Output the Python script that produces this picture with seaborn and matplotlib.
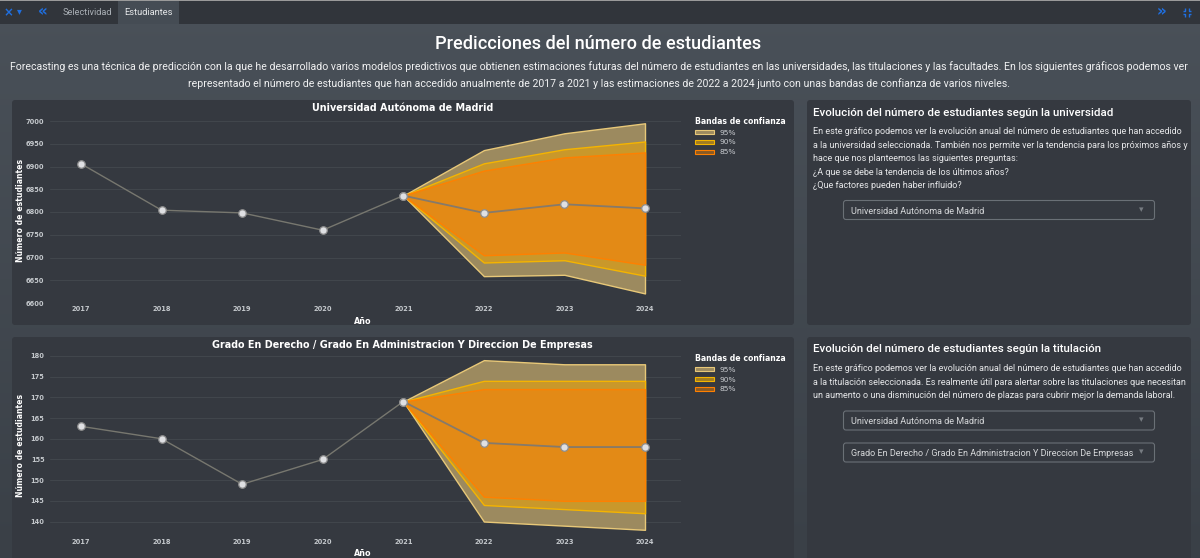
import numpy as np
import pandas as pd
import matplotlib
matplotlib.use("Agg")
import matplotlib.pyplot as plt
from matplotlib.patches import FancyBboxPatch, Patch, Rectangle
import seaborn as sns

sns.set_theme(style="dark")
UI_FONT = "Roboto"
CHART_FONT = "DejaVu Sans"

hist_years = [2017, 2018, 2019, 2020, 2021]
fc_years = [2021, 2022, 2023, 2024]
band_levels = ["95%", "90%", "85%"]

uni_title = "Universidad Autónoma de Madrid"
uni_hist = [6906, 6804, 6798, 6760, 6836]
uni_fc = [6836, 6798, 6817, 6808]
uni_up95 = [6836, 6936, 6973, 6995]
uni_up90 = [6836, 6907, 6938, 6955]
uni_up85 = [6836, 6891, 6920, 6931]
uni_lo85 = [6836, 6705, 6711, 6684]
uni_lo90 = [6836, 6689, 6694, 6660]
uni_lo95 = [6836, 6659, 6662, 6621]
uni_ticks = [6600, 6650, 6700, 6750, 6800, 6850, 6900, 6950, 7000]

deg_title = "Grado En Derecho / Grado En Administracion Y Direccion De Empresas"
deg_hist = [163, 160, 149, 155, 169]
deg_fc = [169, 159, 158, 158]
deg_up95 = [169, 179, 178, 178]
deg_up90 = [169, 174, 174, 174]
deg_up85 = [169, 172, 172, 172]
deg_lo85 = [169, 146, 145, 145]
deg_lo90 = [169, 144, 143, 142]
deg_lo95 = [169, 140, 139, 138]
deg_ticks = [140, 145, 150, 155, 160, 165, 170, 175, 180]

main_title = "Predicciones del número de estudiantes"
intro = ["Forecasting es una técnica de predicción con la que he desarrollado varios modelos predictivos que obtienen estimaciones futuras del número de estudiantes en las universidades, las titulaciones y las facultades. En los siguientes gráficos podemos ver",
         "representado el número de estudiantes que han accedido anualmente de 2017 a 2021 y las estimaciones de 2022 a 2024 junto con unas bandas de confianza de varios niveles."]
card1_title = "Evolución del número de estudiantes según la universidad"
card1_lines = ["En este gráfico podemos ver la evolución anual del número de estudiantes que han accedido",
               "a la universidad seleccionada. También nos permite ver la tendencia para los próximos años y",
               "hace que nos planteemos las siguientes preguntas:",
               "¿A que se debe la tendencia de los últimos años?",
               "¿Que factores pueden haber influido?"]
card2_title = "Evolución del número de estudiantes según la titulación"
card2_lines = ["En este gráfico podemos ver la evolución anual del número de estudiantes que han accedido",
               "a la titulación seleccionada. Es realmente útil para alertar sobre las titulaciones que necesitan",
               "un aumento o una disminución del número de plazas para cubrir mejor la demanda laboral."]

W, H = 1200, 558
fig = plt.figure(figsize=(W / 100, H / 100), dpi=100)

# page background
bg = fig.add_axes([0, 0, 1, 1], zorder=0)
grad = np.linspace(0, 1, 256).reshape(-1, 1)
c0, c1 = np.array([0x4a, 0x51, 0x59]), np.array([0x3a, 0x40, 0x47])
bg.imshow((c0 + (c1 - c0) * grad[..., None]) / 255, aspect="auto", extent=[0, W, H, 0])
bg.set_xlim(0, W); bg.set_ylim(H, 0); bg.axis("off")

PANEL = "#353940"
def card(x0, y0, x1, y1):
    bg.add_patch(FancyBboxPatch((x0, y0), x1 - x0, y1 - y0, boxstyle="round,pad=0,rounding_size=3",
                                fc=PANEL, ec="none"))
card(12, 100, 794, 325)
card(12, 337, 794, 570)
card(807, 100, 1191, 325)
card(807, 337, 1191, 570)

# top bar
bg.add_patch(Rectangle((0, 0), W, 24, fc="#31353b", ec="none"))
bg.add_patch(Rectangle((0, 0), W, 1, fc="#9a9a9a", ec="none"))
bg.add_patch(Rectangle((118, 1), 61, 23, fc="#454c54", ec="none"))
BLUE = "#1f6fe0"
bg.text(8.5, 12.5, "×", color=BLUE, fontsize=8.5, fontweight="bold", ha="center", va="center", family=CHART_FONT)
bg.text(19, 11.5, "▾", color=BLUE, fontsize=7, ha="center", va="center", family=CHART_FONT)
bg.text(43, 11.5, "«", color=BLUE, fontsize=11, fontweight="bold", ha="center", va="center", family=CHART_FONT)
bg.text(1161, 11.5, "»", color=BLUE, fontsize=11, fontweight="bold", ha="center", va="center", family=CHART_FONT)
# compress icon: no installed family has this glyph
for sx, sy in [(-1, -1), (1, -1), (-1, 1), (1, 1)]:
    cx, cy = 1187, 12.5
    bg.plot([cx + sx * 4.2, cx + sx * 1.6, cx + sx * 1.6], [cy + sy * 1.6, cy + sy * 1.6, cy + sy * 4.2],
            color=BLUE, lw=1.0, solid_capstyle="butt")
bg.set_xlim(0, W); bg.set_ylim(H, 0)
bg.text(87.5, 12.5, "Selectividad", color="#aab0b6", fontsize=6.7, ha="center", va="center", family=UI_FONT)
bg.text(148.5, 12.5, "Estudiantes", color="#e4e6e8", fontsize=6.7, ha="center", va="center", family=UI_FONT)

# page headings
bg.text(598.5, 44, main_title, color="white", fontsize=13.1, fontweight="medium", ha="center", va="center", family=UI_FONT)
bg.text(598.5, 67, intro[0], color="#f0f1f2", fontsize=7.6, ha="center", va="center", family=UI_FONT)
bg.text(598.5, 83.5, intro[1], color="#f0f1f2", fontsize=7.6, ha="center", va="center", family=UI_FONT)

# text cards
def text_card(title, y_title, lines, y_first):
    bg.text(813, y_title, title, color="white", fontsize=8.25, fontweight="medium", va="center", family=UI_FONT)
    for i, s in enumerate(lines):
        bg.text(813, y_first + i * 13.6, s, color="#e6e7e9", fontsize=6.45, va="center", family=UI_FONT)

def dropdown(y0, y1, label):
    bg.add_patch(FancyBboxPatch((843.5, y0), 311, y1 - y0, boxstyle="round,pad=0,rounding_size=2.5",
                                fc="none", ec="#6a7076", lw=0.8))
    bg.text(851, (y0 + y1) / 2 + 1, label, color="#d6d8da", fontsize=6.5, va="center", family=UI_FONT)
    bg.text(1141.5, (y0 + y1) / 2 - 0.5, "▾", color="#777c82", fontsize=6.5, ha="center", va="center", family=CHART_FONT)

text_card(card1_title, 112.5, card1_lines, 131.5)
dropdown(200.5, 219.5, uni_title)
text_card(card2_title, 349.5, card2_lines, 368.5)
dropdown(411, 430, uni_title)
dropdown(443, 462, deg_title)

def chart(top_px, bot_px, ymin, title, title_y, xlabel_y, ylabel_y, ticks, hist, fc,
          up95, up90, up85, lo85, lo90, lo95, legend_y):
    ax = fig.add_axes([50 / W, 1 - bot_px / H, (681 - 50) / W, (bot_px - top_px) / H], zorder=2)
    ax.patch.set_alpha(0)
    step = (645 - 81) / 7
    ax.set_xlim(2017 - 31 / step, 2024 + 36 / step)
    ax.set_ylim(ymin, ticks[-1])
    ax.set_yticks(ticks)
    ax.set_xticks(hist_years + fc_years[1:])
    ax.grid(axis="y", color="#42474d", lw=0.7)
    ax.grid(axis="x", visible=False)
    ax.set_axisbelow(True)
    for s in ax.spines.values():
        s.set_visible(False)
    ax.tick_params(axis="both", length=0, labelcolor="#c4c8cc", labelsize=4.8)
    ax.tick_params(axis="x", pad=2.5)
    ax.tick_params(axis="y", pad=4)
    for lab in ax.get_xticklabels() + ax.get_yticklabels():
        lab.set_family(CHART_FONT)
        lab.set_fontweight("bold")
    for u, l, f, e in [(up95, lo95, "#9c8a5f", "#e8c878"),
                       (up90, lo90, "#c9982b", "#f5b400"),
                       (up85, lo85, "#e38a16", "#ff8000")]:
        ax.fill_between(fc_years, l, u, facecolor=f, edgecolor=e, lw=1.0, zorder=3, clip_on=False)
    d1 = pd.DataFrame({"Año": hist_years, "Número de estudiantes": hist})
    d2 = pd.DataFrame({"Año": fc_years, "Número de estudiantes": fc})
    for d, col, lw in [(d1, "#77776f", 1.0), (d2, "#857a6b", 1.3)]:
        sns.lineplot(data=d, x="Año", y="Número de estudiantes", ax=ax, color=col, lw=lw, zorder=4,
                     marker="o", markersize=5.4, markerfacecolor="#dfe0e3", markeredgecolor="#8e8e8e",
                     markeredgewidth=0.9, clip_on=False, errorbar=None)
    ax.set_xlabel(""); ax.set_ylabel("")
    bg.text(20.5, ylabel_y, "Número de estudiantes", color="white", fontsize=5.6, fontweight="bold",
            rotation=90, ha="center", va="center", family=CHART_FONT)
    bg.text(363, xlabel_y, "Año", color="white", fontsize=5.8, fontweight="bold", ha="center", va="center", family=CHART_FONT)
    bg.text(402.5, title_y, title, color="white", fontsize=6.9, fontweight="bold", ha="center", va="center", family=CHART_FONT)
    handles = [Patch(facecolor=f, edgecolor=e, lw=0.8) for f, e in
               [("#9c8a5f", "#e8c878"), ("#a07c22", "#f5b400"), ("#8a5a24", "#ff8000")]]
    leg = ax.legend(handles, band_levels, title="Bandas de confianza", loc="upper left",
                    bbox_to_anchor=(695 / W, 1 - legend_y / H), bbox_transform=fig.transFigure,
                    frameon=False, fontsize=5.4, title_fontsize=5.6, labelcolor="#c9ccd0",
                    handlelength=2.5, handleheight=0.45, handletextpad=0.7, labelspacing=0.5,
                    alignment="left", borderpad=0, borderaxespad=0)
    leg.get_title().set_color("white")
    leg.get_title().set_fontweight("bold")
    leg.get_title().set_family(CHART_FONT)
    return ax

chart(121, 303, 6600, uni_title, 108, 321, 210, uni_ticks, uni_hist, uni_fc,
      uni_up95, uni_up90, uni_up85, uni_lo85, uni_lo90, uni_lo95, 117)
chart(356, 536, 136.5, deg_title, 344.5, 554, 445, deg_ticks, deg_hist, deg_fc,
      deg_up95, deg_up90, deg_up85, deg_lo85, deg_lo90, deg_lo95, 354)

fig.savefig("out.png", dpi=100)
